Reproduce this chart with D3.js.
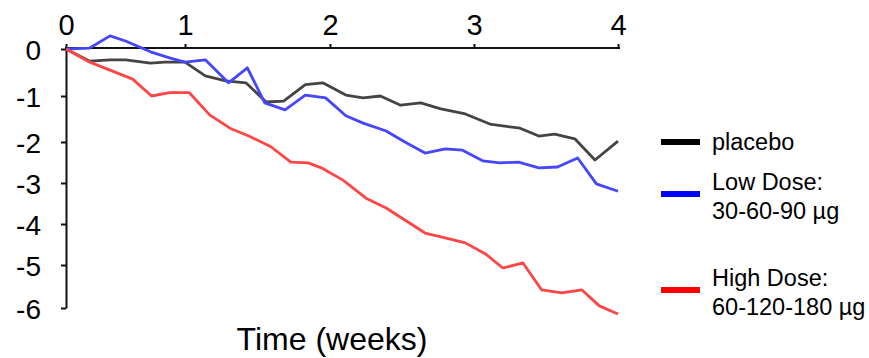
<!DOCTYPE html>
<html lang="en">
<head>
<meta charset="UTF-8"/>
<title>Weight change over time</title>
<script src="https://d3js.org/d3.v7.min.js"></script>
<style>
    body { margin: 0; background: #fff; }
    svg text { font-family: "Liberation Sans", Arial, sans-serif; fill: #000; }
</style>
</head>
<body>
<script>
    // tick values
    var xTicks = [0, 1, 2, 3, 4];
    var yTicks = [0, -1, -2, -3, -4, -5, -6];

    // series (x in weeks, y = change)
    var placeboX = [0, 0.20, 0.37, 0.50, 0.71, 0.83, 1.0, 1.14, 1.28, 1.42, 1.56, 1.68, 1.83, 1.95, 2.11, 2.23, 2.35, 2.49, 2.63, 2.77, 2.94, 3.11, 3.32, 3.45, 3.56, 3.70, 3.84, 4.0];
    var placeboY = [0, -0.26, -0.23, -0.23, -0.30, -0.28, -0.28, -0.57, -0.68, -0.72, -1.13, -1.11, -0.76, -0.72, -0.98, -1.04, -1.0, -1.2, -1.15, -1.28, -1.39, -1.61, -1.70, -1.87, -1.83, -1.93, -2.44, -1.98];

    var lowX = [0, 0.20, 0.37, 0.50, 0.71, 0.87, 1.0, 1.14, 1.30, 1.43, 1.55, 1.69, 1.83, 1.97, 2.11, 2.23, 2.39, 2.52, 2.66, 2.80, 2.92, 3.06, 3.18, 3.31, 3.45, 3.58, 3.72, 3.85, 4.0];
    var lowY = [0, 0.02, 0.28, 0.17, -0.06, -0.19, -0.28, -0.23, -0.72, -0.40, -1.15, -1.30, -0.98, -1.04, -1.43, -1.59, -1.76, -2.0, -2.27, -2.17, -2.20, -2.46, -2.51, -2.49, -2.63, -2.61, -2.39, -3.02, -3.20];

    var highX = [0, 0.20, 0.37, 0.56, 0.72, 0.87, 1.03, 1.17, 1.31, 1.44, 1.59, 1.73, 1.85, 1.94, 2.09, 2.25, 2.39, 2.66, 2.80, 2.94, 3.08, 3.20, 3.34, 3.47, 3.61, 3.75, 3.87, 4.0];
    var highY = [0, -0.28, -0.45, -0.64, -1.0, -0.93, -0.93, -1.41, -1.70, -1.87, -2.11, -2.49, -2.51, -2.63, -2.93, -3.37, -3.61, -4.22, -4.34, -4.46, -4.73, -5.07, -4.95, -5.58, -5.65, -5.58, -5.95, -6.14];

    var seriesNames = ["placebo", "Low Dose:|30-60-90 \u00b5g", "High Dose:|60-120-180 \u00b5g"];
    var seriesColors = ["#000000", "#0000ff", "#ff0000"];
    var lineColors = ["#444444", "#4646ff", "#ff4646"];

    var w = 869;
    var h = 358;

    // the original axis is not evenly spaced, so use piecewise scales
    var xScale = d3.scaleLinear()
        .domain(xTicks)
        .range([66, 185, 330, 474, 618]);

    var yScale = d3.scaleLinear()
        .domain(yTicks)
        .range([49, 96, 142, 183, 224, 265, 308]);

    var svg = d3.select("body")
        .append("svg")
        .attr("width", w)
        .attr("height", h);

    //x axis along the top
    var xAxis = svg.append("g")
        .attr("transform", "translate(0,48)")
        .call(d3.axisTop(xScale).tickValues(xTicks).tickSize(4).tickSizeOuter(0).tickFormat(d3.format("d")));
    xAxis.select(".domain").attr("stroke-width", 2).attr("d", "M65,0H620");
    xAxis.selectAll(".tick line").attr("stroke-width", 2);
    xAxis.selectAll(".tick text")
        .attr("y", -13)
        .attr("dy", 0)
        .attr("font-size", "29px");

    //y axis
    var yAxis = svg.append("g")
        .attr("transform", "translate(66,0)")
        .call(d3.axisLeft(yScale).tickValues(yTicks).tickSize(5).tickSizeOuter(0).tickFormat(d3.format("d")));
    yAxis.select(".domain").attr("stroke-width", 2);
    yAxis.selectAll(".tick line").attr("stroke-width", 2);
    yAxis.selectAll(".tick text")
        .attr("x", -25)
        .attr("dy", "0.36em")
        .attr("font-size", "28px")
        .text(function (d) { return d < 0 ? "-" + Math.abs(d) : d; });
    svg.selectAll(".domain, .tick line").attr("stroke", "#111");

    //lines
    var line = d3.line()
        .x(function (d) { return xScale(d[0]); })
        .y(function (d) { return yScale(d[1]); });

    var series = [d3.zip(placeboX, placeboY), d3.zip(lowX, lowY), d3.zip(highX, highY)];

    svg.selectAll("path.series")
        .data(series)
        .enter()
        .append("path")
        .attr("class", "series")
        .attr("d", line)
        .attr("fill", "none")
        .attr("stroke", function (d, i) { return lineColors[i]; })
        .attr("stroke-width", 2.8)
        .attr("stroke-linejoin", "round");

    //legend
    var legendY = [142, 194, 290];
    var legend = svg.selectAll("g.legend")
        .data(seriesNames)
        .enter()
        .append("g")
        .attr("class", "legend")
        .attr("transform", function (d, i) { return "translate(661," + legendY[i] + ")"; });

    legend.append("line")
        .attr("x1", 0)
        .attr("x2", 39)
        .attr("stroke", function (d, i) { return seriesColors[i]; })
        .attr("stroke-width", 6);

    legend.each(function (d) {
        var parts = d.split("|");
        var t = d3.select(this).append("text")
            .attr("x", 51)
            .attr("y", parts.length > 1 ? -4 : 8)
            .attr("font-size", "23.5px");
        parts.forEach(function (p, j) {
            t.append("tspan")
                .attr("x", 51)
                .attr("dy", j === 0 ? 0 : 29)
                .text(p);
        });
    });

    //axis title
    svg.append("text")
        .attr("x", 332)
        .attr("y", 350)
        .attr("text-anchor", "middle")
        .attr("font-size", "32px")
        .text("Time (weeks)");
</script>
</body>
</html>
